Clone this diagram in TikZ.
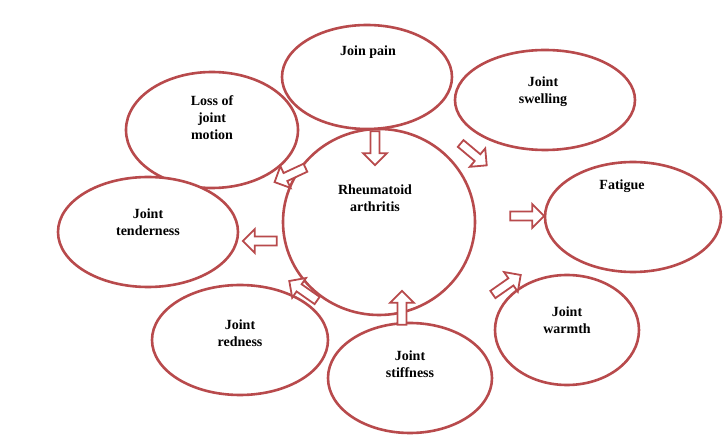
\documentclass[tikz,border=0pt]{standalone}
\usepackage{fontspec}
\setmainfont{Liberation Serif}
\usetikzlibrary{shapes.arrows}
\definecolor{rr}{HTML}{B84A4C}
\begin{document}
\begin{tikzpicture}[x=1pt,y=-1pt,
  circ/.style={draw=rr,line width=2.6pt,fill=white},
  lbl/.style={font=\bfseries\fontsize{14}{17}\selectfont,align=center},
  arr/.style={single arrow,draw=rr,fill=white,line width=1.8pt,minimum height=34pt,minimum width=24pt,single arrow head extend=5pt,inner sep=2pt}]
\useasboundingbox (0,0) rectangle (726,438);
\draw[circ] (379,222) ellipse [x radius=96,y radius=93];
\draw[circ] (367,77) ellipse [x radius=85,y radius=52];
\draw[circ] (212,130) ellipse [x radius=86,y radius=58];
\draw[circ] (545,100) ellipse [x radius=90,y radius=50];
\draw[circ] (633,217) ellipse [x radius=88,y radius=55];
\draw[circ] (148,232) ellipse [x radius=90,y radius=55];
\draw[circ] (240,340) ellipse [x radius=88,y radius=55];
\draw[circ] (410,378) ellipse [x radius=82,y radius=55];
\draw[circ] (567,330) ellipse [x radius=72,y radius=55];
\node[lbl] (c) at (375,198) {Rheumatoid\\arthritis};
\node[lbl] (p) at (368,52) {Join pain};
\node[lbl] (l) at (212,118) {Loss of\\joint\\motion};
\node[lbl] (s) at (543,92) {Joint\\swelling};
\node[lbl] (f) at (622,186) {Fatigue};
\node[lbl] (t) at (148,222) {Joint\\tenderness};
\node[lbl] (r) at (240,333) {Joint\\redness};
\node[lbl] (k) at (410,364) {Joint\\stiffness};
\node[lbl] (w) at (567,320) {Joint\\warmth};
\node[arr,rotate=-90] (a1) at (375,146) {};
\node[arr,rotate=-155] (a2) at (292,174) {};
\node[arr,rotate=-40] (a3) at (472,153) {};
\node[arr] (a4) at (525,216) {};
\node[arr,rotate=180] (a5) at (262,241) {};
\node[arr,rotate=145] (a6) at (305,292) {};
\node[arr,rotate=90] (a7) at (402,310) {};
\node[arr,rotate=35] (a8) at (505,286) {};
\end{tikzpicture}
\end{document}
